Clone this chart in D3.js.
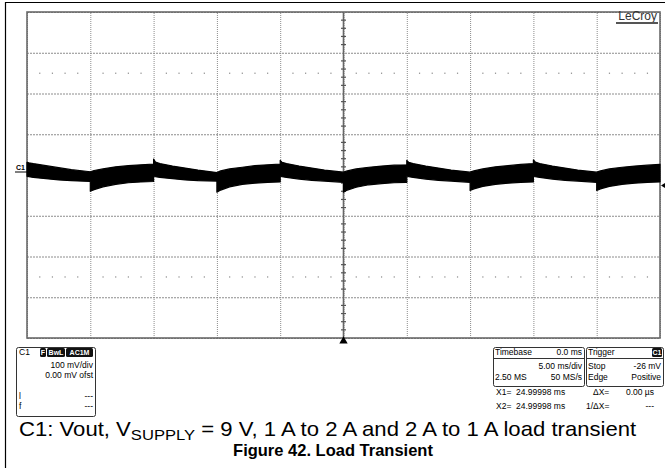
<!DOCTYPE html>
<html><head><meta charset="utf-8">
<script src="https://cdn.jsdelivr.net/npm/d3@7"></script>
<style>
html,body{margin:0;padding:0;background:#fff;}
svg{display:block;font-family:"Liberation Sans",Arial,sans-serif;}
</style></head>
<body><svg id="c" width="665" height="468"></svg>
<script>
// ---- data ----
const timeTicksMs = [-25,-20,-15,-10,-5,0,5,10,15,20,25];
const voltTicksMv = [-400,-300,-200,-100,0,100,200,300,400];
const dottedRowsMv = [250,-250];
// Vout trace envelope (AC coupled, mV)
const traceTimeMs = [
 -25,-24.85,-24.5,-23.5,-22.5,-21.5,-20,
 -20,-19.7,-19,-18,-17,-16,-15,
 -15,-14.85,-14.5,-13.5,-12.5,-11.5,-10,
 -10,-9.7,-9,-8,-7,-6,-5,
 -5,-4.85,-4.5,-3.5,-2.5,-1.5,0,
 0,0.3,1,2,3,4,5,
 5,5.15,5.5,6.5,7.5,8.5,10,
 10,10.3,11,12,13,14,15,
 15,15.15,15.5,16.5,17.5,18.5,20,
 20,20.3,21,22,23,24,25];
const traceUpperMv = [
 31,30,28,23,18,13,8,
 8,11,15,20,23,25,27,
 39,32,28,22,17,12,6,
 6,10,15,19,23,25,27,
 36,31,28,22,17,12,7,
 7,10,15,19,22,24,25,
 36,31,28,22,17,12,7,
 7,10,15,20,23,26,28,
 37,32,28,22,17,12,7,
 7,10,15,19,22,24,26];
const traceLowerMv = [
 -3,-4,-6,-9,-12,-14,-16,
 -40,-36,-29,-23,-19,-17,-16,
 -2,-4,-6,-9,-12,-14,-15,
 -42,-37,-29,-23,-20,-18,-17,
 -2,-4,-6,-10,-13,-15,-18,
 -42,-37,-30,-24,-21,-19,-18,
 -2,-4,-6,-10,-13,-15,-18,
 -38,-34,-28,-23,-20,-18,-17,
 -2,-4,-6,-10,-13,-15,-18,
 -38,-34,-28,-23,-20,-18,-17];
const triggerLevelMv = -26;
const chLabel = "C1";
const chBadges = ["F","BwL","AC1M"];
const chRows = [["","100 mV/div"],["","0.00 mV ofst"],["l","---"],["f","---"]];
const tbRows = [["Timebase","0.0 ms"],["","5.00 ms/div"],["2.50 MS","50 MS/s"]];
const trRows = [["Trigger",""],["Stop","-26 mV"],["Edge","Positive"]];
const cursorRows = [["X1=","24.99998 ms","ΔX=","0.00 µs"],["X2=","24.99998 ms","1/ΔX=","---"]];
const captionMain = ["C1: Vout, V","SUPPLY"," = 9 V, 1 A to 2 A and 2 A to 1 A load transient"];
const figureTitle = "Figure 42. Load Transient";

// ---- layout ----
const svg = d3.select("#c");
const L=27,R=660,T=12,B=338;
const x = d3.scaleLinear().domain([-25,25]).range([L,R]);
const y = d3.scaleLinear().domain([-400,400]).range([B,T]);

// outer frame (left + top)
svg.append("line").attr("x1",5.5).attr("x2",5.5).attr("y1",2).attr("y2",468).attr("stroke","#000").attr("stroke-width",1.2);
svg.append("line").attr("x1",5).attr("x2",665).attr("y1",2.5).attr("y2",2.5).attr("stroke","#000").attr("stroke-width",1.2);

// grid via axes
const gx = svg.append("g").attr("transform",`translate(0,${B})`)
  .call(d3.axisBottom(x).tickValues(timeTicksMs).tickSize(-(B-T)).tickFormat(""));
gx.select(".domain").remove();
gx.selectAll("line").attr("stroke","#8c8c8c").attr("stroke-dasharray","1,1");
const gy = svg.append("g").attr("transform",`translate(${L},0)`)
  .call(d3.axisLeft(y).tickValues(voltTicksMv).tickSize(-(R-L)).tickFormat(""));
gy.select(".domain").remove();
gy.selectAll("line").attr("stroke","#8c8c8c").attr("stroke-dasharray","2,1");

// dotted rows
const subT = d3.range(-25,25.01,1).filter(v=>Math.abs(v%5)>0.01);
dottedRowsMv.forEach(mv=>{
  svg.append("g").selectAll("rect").data(subT).join("rect")
    .attr("x",d=>x(d)-0.5).attr("y",y(mv)-0.5).attr("width",1.2).attr("height",1.2).attr("fill","#888");
});

// center axes with ticks
svg.append("line").attr("x1",x(0)).attr("x2",x(0)).attr("y1",T).attr("y2",B).attr("stroke","#666").attr("stroke-width",1.6);
svg.append("line").attr("x1",L).attr("x2",R).attr("y1",y(0)).attr("y2",y(0)).attr("stroke","#666").attr("stroke-width",1.2);
const vSub = d3.range(-400,400.1,20).filter(v=>v%100!==0);
svg.append("g").selectAll("line").data(vSub).join("line")
  .attr("x1",x(0)-2.5).attr("x2",x(0)+2.5).attr("y1",d=>y(d)).attr("y2",d=>y(d)).attr("stroke","#555").attr("stroke-width",1.2);
svg.append("g").selectAll("line").data(subT).join("line")
  .attr("y1",y(0)-2.5).attr("y2",y(0)+2.5).attr("x1",d=>x(d)).attr("x2",d=>x(d)).attr("stroke","#555").attr("stroke-width",1.2);

// frame
svg.append("rect").attr("x",L).attr("y",T).attr("width",R-L).attr("height",B-T)
  .attr("fill","none").attr("stroke","#6a6a6a").attr("stroke-width",1.6);

// trace
const pts = traceTimeMs.map((t,i)=>({t,u:traceUpperMv[i],l:traceLowerMv[i]}));
svg.append("path").datum(pts)
  .attr("d",d3.area().x(d=>x(d.t)).y0(d=>y(d.l)).y1(d=>y(d.u)))
  .attr("fill","#000").attr("stroke","#000").attr("stroke-width",1.2).attr("stroke-linejoin","round");

// channel marker
svg.append("text").attr("x",16).attr("y",170).attr("font-size",7).attr("font-weight","bold").text(chLabel);
svg.append("line").attr("x1",15).attr("x2",L).attr("y1",172).attr("y2",172).attr("stroke","#000").attr("stroke-width",1);

// trigger position marker (bottom) & trigger level marker (right)
svg.append("path").attr("d",d3.symbol(d3.symbolTriangle,30)()).attr("transform",`translate(${x(0)},${B+3})`).attr("fill","#000");
svg.append("path").attr("d",`M${R+1},${y(triggerLevelMv)} l4,-2.5 l0,5 z`).attr("fill","#000");

// LeCroy logo
svg.append("text").attr("x",657).attr("y",20).attr("text-anchor","end").attr("font-size",12).attr("fill","#333").text("LeCroy");
svg.append("line").attr("x1",616).attr("x2",658).attr("y1",23).attr("y2",23).attr("stroke","#555").attr("stroke-width",2);

// helpers
const fs=8.5;
function box(x0,y0,w,h){
  svg.append("rect").attr("x",x0+0.5).attr("y",y0+0.5).attr("width",w).attr("height",h).attr("rx",2)
    .attr("fill","#fff").attr("stroke","#333").attr("stroke-width",1);
}
function txt(x0,y0,s,anchor){
  svg.append("text").attr("x",x0).attr("y",y0).attr("font-size",fs).attr("text-anchor",anchor||"start").attr("fill","#000").text(s);
}
function badge(x0,x1,y0,s){
  svg.append("rect").attr("x",x0).attr("y",y0).attr("width",x1-x0).attr("height",9).attr("rx",1.5).attr("fill","#111");
  svg.append("text").attr("x",(x0+x1)/2).attr("y",y0+7).attr("text-anchor","middle").attr("font-size",7).attr("font-weight","bold").attr("fill","#fff").text(s);
}

// channel box
box(16,347,79,69);
txt(19,355,chLabel);
const bx=[[40,46],[47,65],[66,93]];
chBadges.forEach((b,i)=>badge(bx[i][0],bx[i][1],348,b));
const chY=[368,378,399,409];
chRows.forEach((r,i)=>{ if(r[0]) txt(19,chY[i],r[0]); txt(93,chY[i],r[1],"end"); });

// timebase box
box(493,347,91,39);
svg.append("line").attr("x1",493).attr("x2",584).attr("y1",358.5).attr("y2",358.5).attr("stroke","#333");
const rY=[355,369,380];
tbRows.forEach((r,i)=>{ if(r[0]) txt(495,rY[i],r[0]); txt(582,rY[i],r[1],"end"); });
// trigger box
box(586,347,77,39);
svg.append("line").attr("x1",586).attr("x2",663).attr("y1",358.5).attr("y2",358.5).attr("stroke","#333");
trRows.forEach((r,i)=>{ txt(588,rY[i],r[0]); if(r[1]) txt(661,rY[i],r[1],"end"); });
badge(652,662,348,chLabel);

// cursor readouts
const cY=[395,409];
cursorRows.forEach((r,i)=>{
  txt(496,cY[i],r[0]); txt(516,cY[i],r[1]);
  txt(i===0?593:586,cY[i],r[2]); txt(654,cY[i],r[3],"end");
});

// caption (horizontally scaled to the reference width)
const capG = svg.append("g").attr("transform","translate(19,436)");
const cap = capG.append("text").attr("x",0).attr("y",0).attr("font-size",20).attr("fill","#000");
cap.append("tspan").text(captionMain[0]);
cap.append("tspan").attr("font-size",15).attr("dy",4).text(captionMain[1]);
cap.append("tspan").attr("dy",-4).text(captionMain[2]);
const capW = cap.node().getBBox().width;
capG.attr("transform",`translate(19,436) scale(${618/capW},1)`);
svg.append("text").attr("x",333).attr("y",456).attr("text-anchor","middle").attr("font-size",16.5).attr("font-weight","bold").text(figureTitle);
</script></body></html>
